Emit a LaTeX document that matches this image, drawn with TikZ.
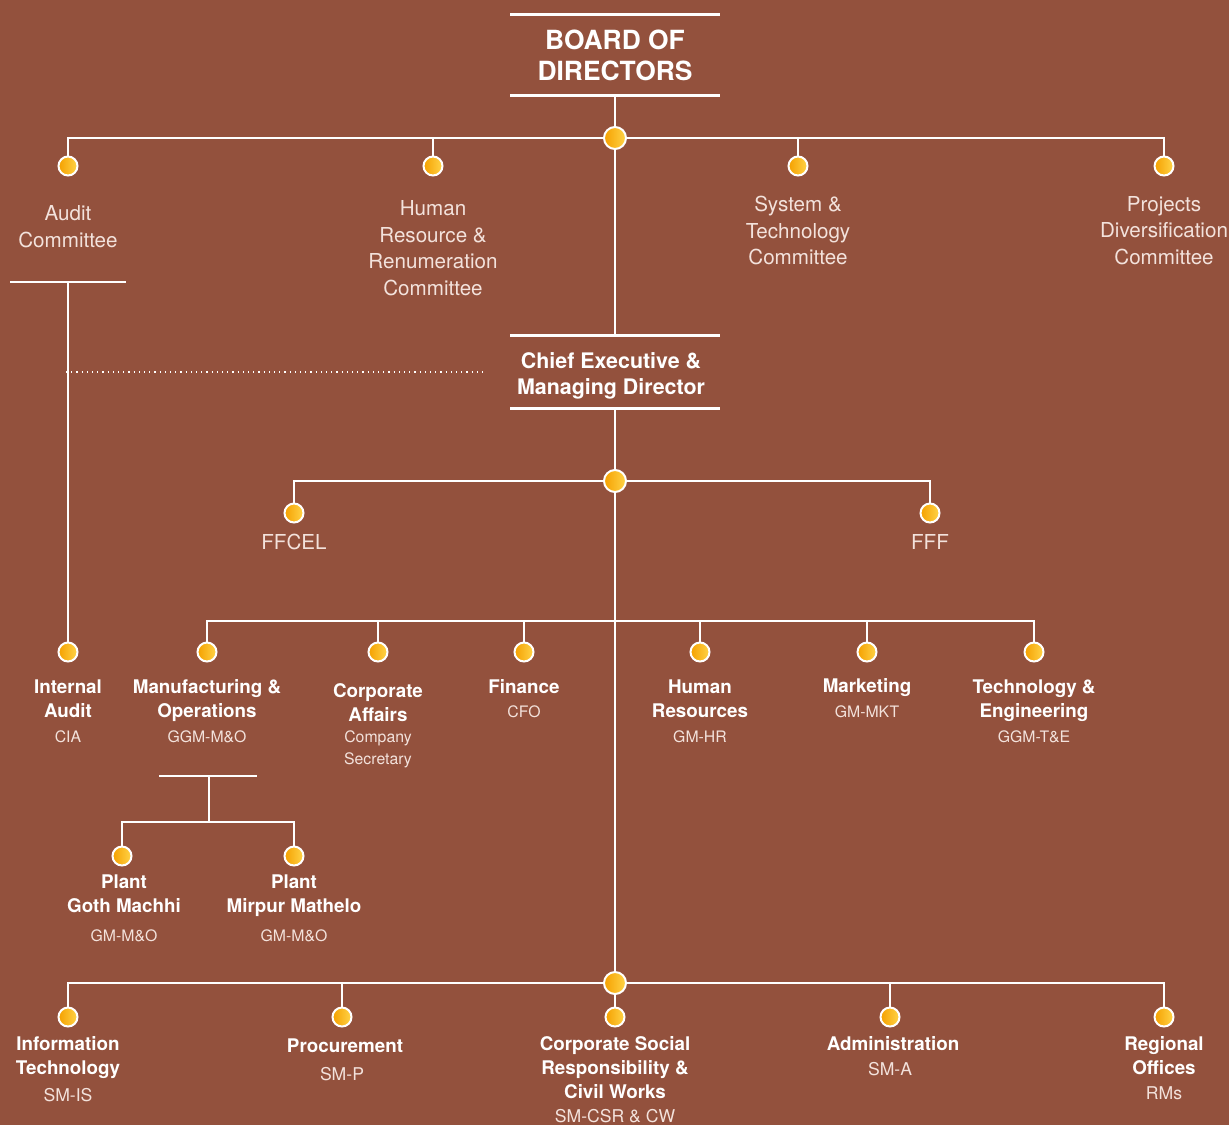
\documentclass[tikz,border=0pt]{standalone}
\usepackage{fontspec}
\setmainfont{TeX Gyre Heros}
\definecolor{bg}{RGB}{147,81,61}
\definecolor{soft}{RGB}{243,226,220}
\definecolor{dotL}{RGB}{245,160,0}
\definecolor{dotR}{RGB}{255,212,72}

\begin{document}
\begin{tikzpicture}[x=0.5pt,y=-0.5pt,
  wire/.style={draw=white,line width=1.3pt},
  dot/.style={circle,draw=white,line width=1pt,minimum size=9.5pt,inner sep=0pt,left color=dotL,right color=dotR},
  hub/.style={dot,minimum size=11pt},
  titlebox/.style={text=white,align=center,inner sep=0pt,minimum width=104.5pt},
  head/.style={text=white,font=\bfseries\fontsize{9.4}{12}\selectfont,align=center,inner sep=0pt},
  post/.style={text=soft,font=\fontsize{7.9}{11}\selectfont,align=center,inner sep=0pt},
  postb/.style={post,font=\fontsize{8.8}{11}\selectfont},
  cmte/.style={text=soft,font=\fontsize{10.3}{13.3}\selectfont,align=center,inner sep=0pt}]
  \useasboundingbox (0,0) rectangle (1229,1125);
  \fill[bg] (0,0) rectangle (1229,1125);

  % board and chief executive
  \node[titlebox,minimum height=40pt,font=\bfseries\fontsize{13.2}{15.5}\selectfont] (board) at (615,55) {BOARD OF\\DIRECTORS};
  \draw[wire] (board.north west) -- (board.north east) (board.south west) -- (board.south east);
  \node[titlebox,minimum height=36pt] (ceo) at (615,372) {};
  \draw[wire] (ceo.north west) -- (ceo.north east) (ceo.south west) -- (ceo.south east);
  \node[head,font=\bfseries\fontsize{10.7}{13}\selectfont] (ceoT) at (611,376) {Chief Executive \&\\Managing Director};

  % committees
  \node[hub] (bh) at (615,138) {};
  \node[dot] (ac) at (68,166) {};
  \node[dot] (hr) at (433,166) {};
  \node[dot] (st) at (798,166) {};
  \node[dot] (pd) at (1164,166) {};
  \draw[wire] (board) -- (bh) -- (ceo);
  \foreach \d in {ac,hr,st,pd} \draw[wire] (bh) -| (\d);
  \node[cmte] (acT) at (68,226.5) {Audit\\Committee};
  \node[cmte] (hrT) at (433,248) {Human\\Resource \&\\Renumeration\\Committee};
  \node[cmte] (stT) at (798,230.5) {System \&\\Technology\\Committee};
  \node[cmte] (pdT) at (1164,230.5) {Projects\\Diversification\\Committee};

  % internal audit line
  \coordinate (abL) at (10,282);
  \coordinate (abR) at (126,282);
  \coordinate (ab) at (68,282);
  \draw[wire] (abL) -- (abR);
  \coordinate (dotA) at (66,372);
  \coordinate (dotB) at (483,372);
  \draw[white,dotted,line width=0.6pt] (dotA) -- (dotB);

  % subsidiaries
  \node[hub] (ch) at (615,481) {};
  \node[dot] (ffcel) at (294,513) {};
  \node[dot] (fff) at (930,513) {};
  \draw[wire] (ceo) -- (ch);
  \draw[wire] (ch) -| (ffcel);
  \draw[wire] (ch) -| (fff);
  \node[cmte] (ffcelT) at (294,542) {FFCEL};
  \node[cmte] (fffT) at (930,542) {FFF};

  % departments
  \coordinate (dj) at (615,621);
  \node[dot] (ia) at (68,652) {};
  \node[dot] (mo) at (207,652) {};
  \node[dot] (ca) at (378,652) {};
  \node[dot] (fi) at (524,652) {};
  \node[dot] (hrd) at (700,652) {};
  \node[dot] (mk) at (867,652) {};
  \node[dot] (te) at (1034,652) {};
  \draw[wire] (ab) -- (ia);
  \foreach \d in {mo,ca,fi,hrd,mk,te} \draw[wire] (dj) -| (\d);
  \node[head] (iaT) at (68,699) {Internal\\Audit};
  \node[post] (iaS) at (68,737) {CIA};
  \node[head] (moT) at (207,701) {Manufacturing \&\\Operations};
  \node[post] (moS) at (207,737) {GGM-M\&O};
  \node[head] (caT) at (378,703) {Corporate\\Affairs};
  \node[post] (caS) at (378,749) {Company\\Secretary};
  \node[head] (fiT) at (524,687) {Finance};
  \node[post] (fiS) at (524,712) {CFO};
  \node[head] (hrdT) at (700,699) {Human\\Resources};
  \node[post] (hrdS) at (700,737) {GM-HR};
  \node[head] (mkT) at (867,688) {Marketing};
  \node[post] (mkS) at (867,712) {GM-MKT};
  \node[head] (teT) at (1034,701) {Technology \&\\Engineering};
  \node[post] (teS) at (1034,737) {GGM-T\&E};

  % plants
  \coordinate (mbL) at (159,776);
  \coordinate (mbR) at (257,776);
  \coordinate (mb) at (209,776);
  \coordinate (mj) at (209,822);
  \node[dot] (pg) at (122,856) {};
  \node[dot] (pm) at (294,856) {};
  \draw[wire] (mbL) -- (mbR);
  \draw[wire] (mb) -- (mj);
  \draw[wire] (mj) -| (pg);
  \draw[wire] (mj) -| (pm);
  \node[head] (pgT) at (124,894) {Plant\\Goth Machhi};
  \node[post] (pgS) at (124,936) {GM-M\&O};
  \node[head] (pmT) at (294,896) {Plant\\Mirpur Mathelo};
  \node[post] (pmS) at (294,936) {GM-M\&O};

  % sections
  \node[hub] (bb) at (615,983) {};
  \node[dot] (it) at (68,1017) {};
  \node[dot] (pr) at (342,1017) {};
  \node[dot] (csr) at (615,1017) {};
  \node[dot] (ad) at (890,1017) {};
  \node[dot] (ro) at (1164,1017) {};
  \draw[wire] (ch) -- (bb) -- (csr);
  \foreach \d in {it,pr,ad,ro} \draw[wire] (bb) -| (\d);
  \node[head] (itT) at (68,1058) {Information\\Technology};
  \node[postb] (itS) at (68,1095) {SM-IS};
  \node[head] (prT) at (345,1046) {Procurement};
  \node[postb] (prS) at (342,1074) {SM-P};
  \node[head] (csrT) at (615,1068) {Corporate Social\\Responsibility \&\\Civil Works};
  \node[postb] (csrS) at (615,1116) {SM-CSR \& CW};
  \node[head] (adT) at (893,1044) {Administration};
  \node[postb] (adS) at (890,1069) {SM-A};
  \node[head] (roT) at (1164,1056) {Regional\\Offices};
  \node[postb] (roS) at (1164,1093) {RMs};
\end{tikzpicture}
\end{document}
